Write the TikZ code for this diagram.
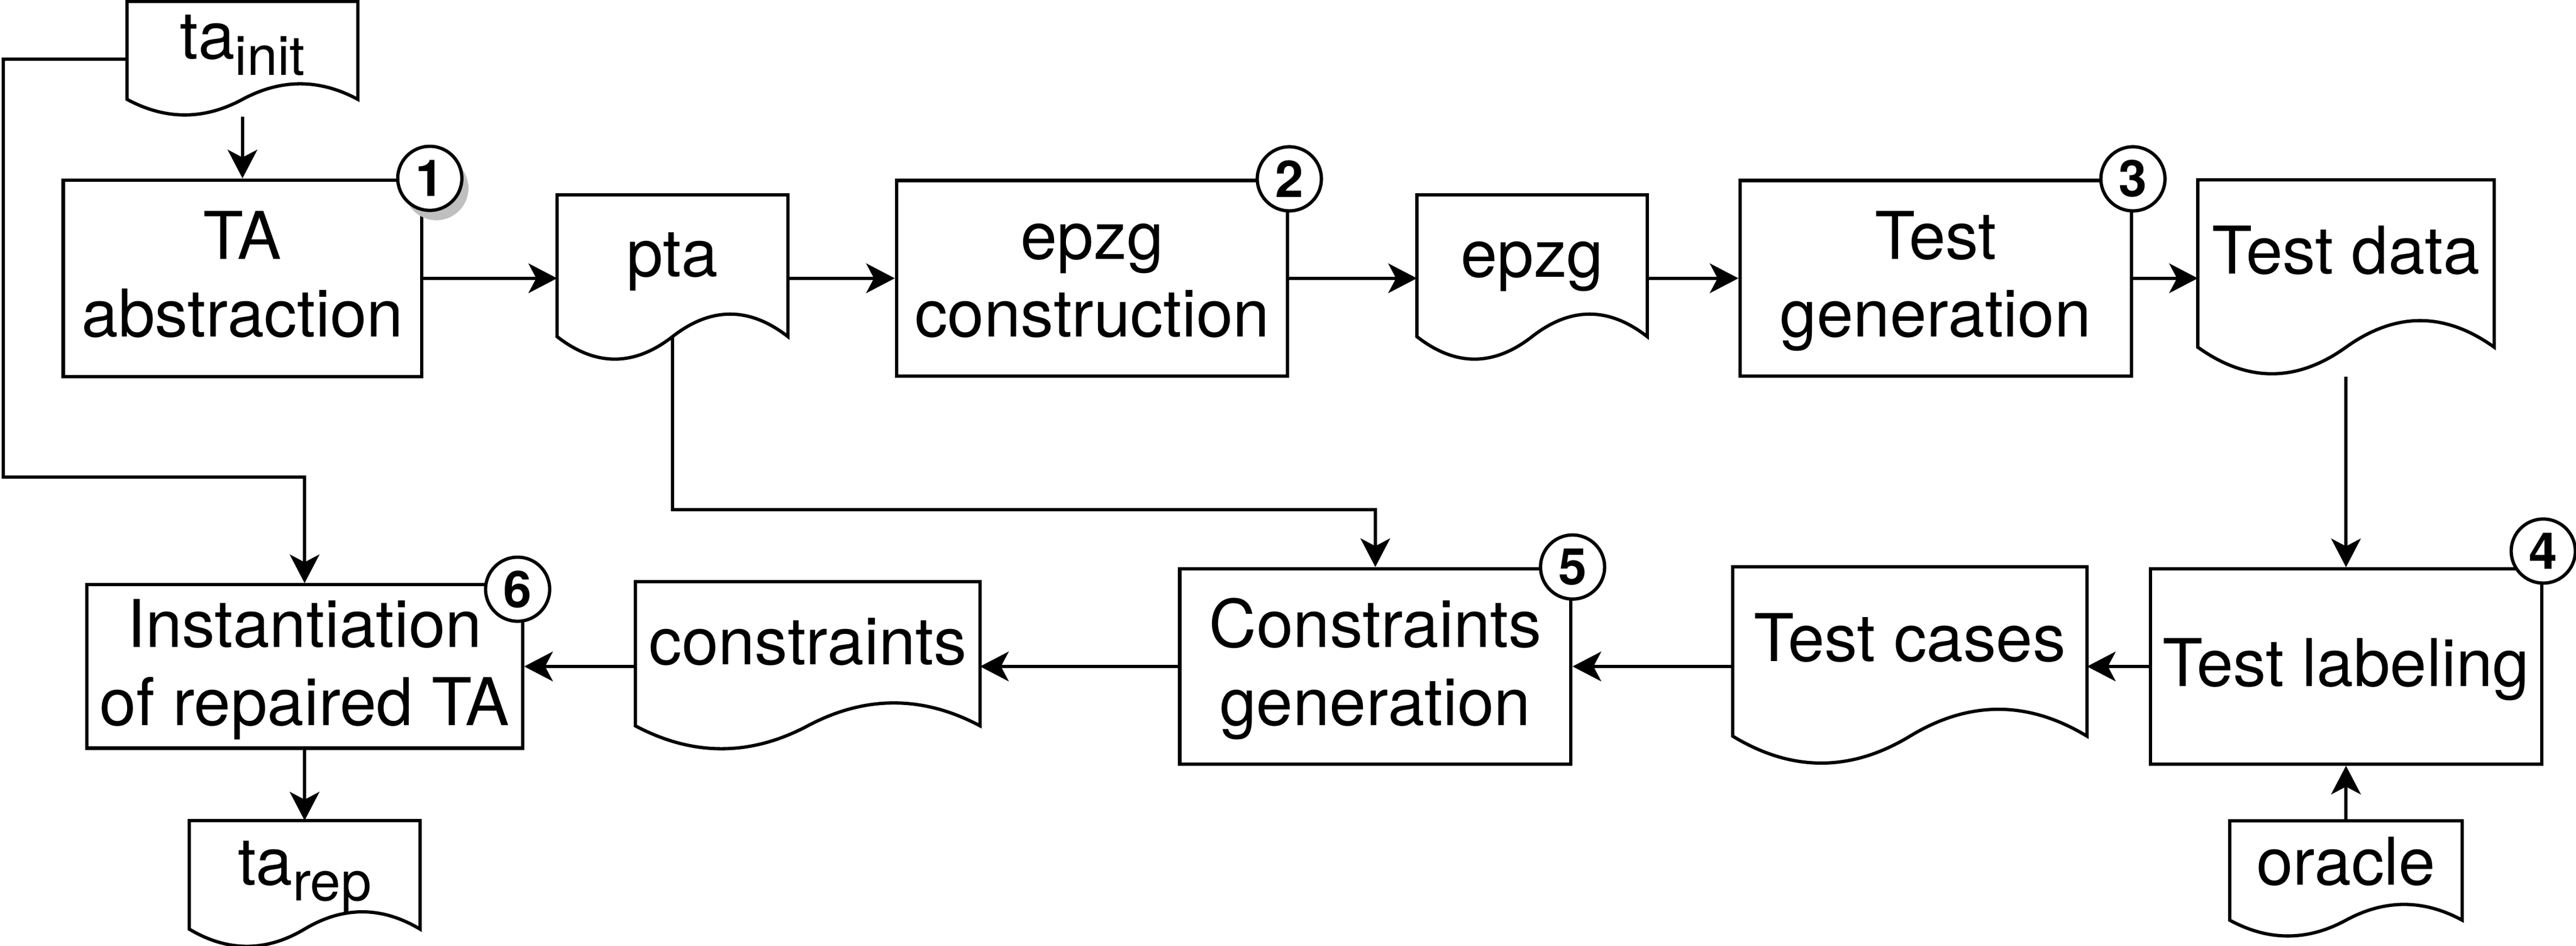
\documentclass[tikz,border=0pt]{standalone}
\usepackage{fontspec}
\setmainfont{TeX Gyre Heros}
\usetikzlibrary{arrows.meta,calc,shadows}
\newcommand{\lstrut}{\rule[-0.09cm]{0pt}{0.42cm}}
\newcommand{\lowsub}[1]{\raisebox{-0.098cm}{\fontsize{9.5}{11}\selectfont #1}}

\begin{document}
\begin{tikzpicture}[x=0.01cm,y=-0.01cm,
every node/.style={font=\fontsize{11.4}{13.5}\selectfont},
procbox/.style={draw,line width=0.02cm,inner sep=0pt,align=center,minimum width=2.38cm,minimum height=1.19cm},
docnode/.style n args={3}{inner sep=0pt,minimum width=#1cm,text height=#3cm,text depth=#2cm-#3cm},
docline/.style={line width=0.02cm},
arr/.style={line width=0.02cm,-{Stealth[length=0.174cm,width=0.18cm,inset=0.047cm]}},
badge/.style={circle,draw,fill=white,line width=0.02cm,inner sep=0pt,minimum size=0.39cm,font=\fontsize{8.8}{10}\bfseries}
]
\useasboundingbox (0,0) rectangle (1568,575.86);
% top row
\node[docnode={1.39}{0.687}{0.344}] (tainit) at (147.6,35.95) {ta\lowsub{init}};
\node[procbox,minimum width=2.181cm,minimum height=1.196cm] (absbox) at (147.6,169.4) {\lstrut TA\\\lstrut abstraction};
\node[docnode={1.39}{1.0}{0.49}] (pta) at (409.35,169.4) {pta};
\node[procbox] (conbox) at (664.75,169.4) {\lstrut epzg\\\lstrut construction};
\node[docnode={1.387}{1.0}{0.492}] (epzgdoc) at (932.55,169.4) {epzg};
\node[procbox] (genbox) at (1178.25,169.4) {\lstrut Test\\\lstrut generation};
\node[docnode={1.789}{1.184}{0.566}] (tdata) at (1428,169.4) {Test data};
% bottom row
\node[procbox,minimum height=1.188cm] (labbox) at (1428,405.7) {\lstrut Test labeling};
\node[docnode={1.4}{0.697}{0.384}] (oracle) at (1428,535.25) {oracle};
\node[docnode={2.141}{1.198}{0.567}] (tcases) at (1162.55,405.7) {Test cases};
\node[procbox] (cgenbox) at (837.15,405.7) {\lstrut Constraints\\\lstrut generation};
\node[docnode={2.083}{1.018}{0.499}] (cons) at (491.65,405.7) {constraints};
\node[procbox,minimum width=2.652cm,minimum height=0.994cm] (instbox) at (185.4,405.7) {\lstrut Instantiation\\\lstrut of repaired TA};
\node[docnode={1.39}{0.763}{0.384}] (tarep) at (185.4,538.35) {ta\lowsub{rep}};
% document outlines
\foreach \d in {tainit,pta,epzgdoc,tdata,oracle,tcases,cons,tarep}
  \draw[docline] let \p1=(\d.south west), \p2=(\d.north east), \p3=($(\p2)-(\p1)$) in
    (\x1,\y2) -- (\x2,\y2) -- (\x2,{\y1+0.15*\y3})
    .. controls ({\x1+0.8333*\x3},{\y1+0.33*\y3}) and ({\x1+0.6667*\x3},{\y1+0.33*\y3}) .. ({\x1+0.5*\x3},{\y1+0.15*\y3})
    .. controls ({\x1+0.3333*\x3},{\y1-0.03*\y3}) and ({\x1+0.1667*\x3},{\y1-0.03*\y3}) .. (\x1,{\y1+0.15*\y3}) -- cycle;
% step numbers
\node[badge,drop shadow={shadow xshift=0.04cm,shadow yshift=-0.06cm,fill=black!25,opacity=1}] (num1) at ([xshift=0.039cm]absbox.north east) {1};
\node[badge] (num2) at (conbox.north east) {2};
\node[badge] (num3) at (genbox.north east) {3};
\node[badge] (num4) at ([yshift=0.098cm]labbox.north east) {4};
\node[badge] (num5) at (cgenbox.north east) {5};
\node[badge] (num6) at ([xshift=-0.04cm,yshift=-0.037cm]instbox.north east) {6};
% connectors
\draw[arr] (tainit.south) -- (absbox.north);
\draw[arr] (absbox.east) -- (pta.west);
\draw[arr] (pta.east) -- (conbox.west);
\draw[arr] (conbox.east) -- (epzgdoc.west);
\draw[arr] (epzgdoc.east) -- (genbox.west);
\draw[arr] (genbox.east) -- (tdata.west);
\draw[arr] (tdata.south) -- (labbox.north);
\draw[arr] (oracle.north) -- (labbox.south);
\draw[arr] (labbox.west) -- (tcases.east);
\draw[arr] (tcases.west) -- (cgenbox.east);
\draw[arr] (cgenbox.west) -- (cons.east);
\draw[arr] (cons.west) -- (instbox.east);
\draw[arr] (instbox.south) -- (tarep.north);
\coordinate (lrail) at (1.9,290.3);
\draw[arr] (tainit.west) -| (lrail) -| (instbox.north);
\coordinate (ptawave) at ([yshift=0.15cm]pta.south);
\coordinate (prail) at (837.15,310.1);
\draw[arr] (ptawave) |- (prail) -- (cgenbox.north);
\end{tikzpicture}
\end{document}
